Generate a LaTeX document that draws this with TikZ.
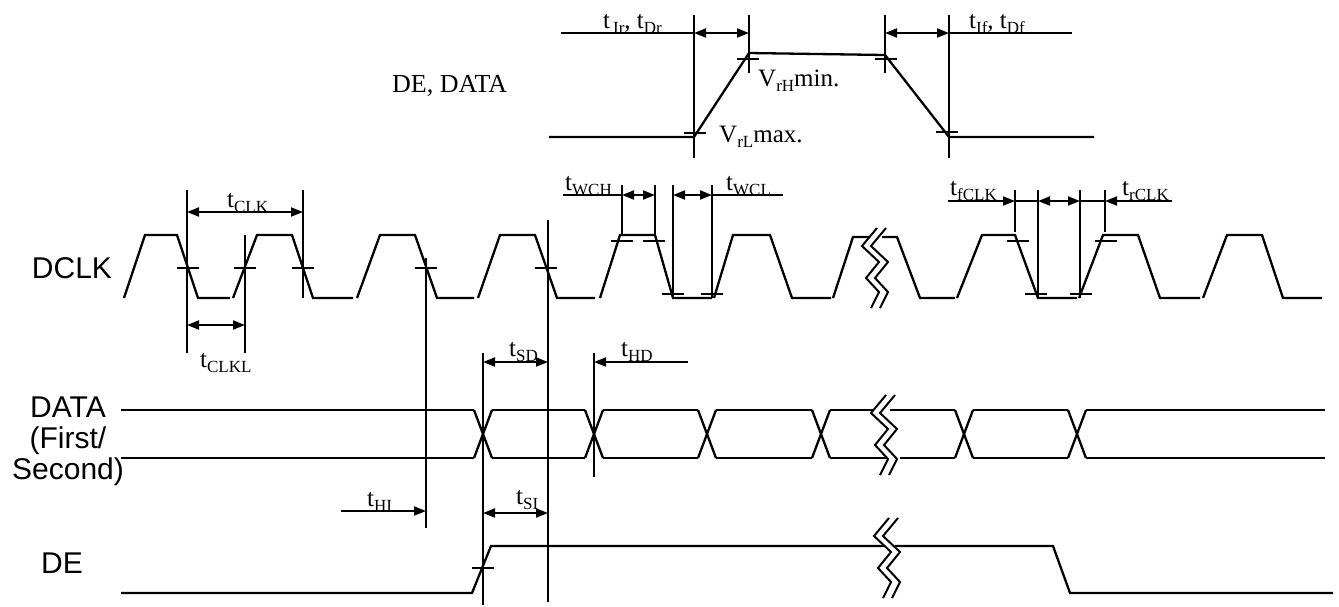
\documentclass[tikz,border=0pt]{standalone}
\usepackage{fontspec}
\setmainfont{Liberation Serif}
\newfontfamily\arialfont{Liberation Sans}
\usetikzlibrary{arrows.meta}

% symbol with lowered index, as in the datasheet
\newcommand{\sym}[2]{#1\raisebox{-5pt}{\fontsize{17}{17}\selectfont #2}}

\begin{document}
\begin{tikzpicture}[x=1pt, y=-1pt, >={Triangle[length=12pt,width=9pt]},
  wave/.style={line width=2.3pt},
  dimline/.style={line width=1.8pt},
  tickmark/.style={line width=2.2pt},
  brk/.style={line width=2pt},
  tlabel/.style={inner sep=0pt, anchor=base west, font=\fontsize{25}{25}\selectfont},
  signame/.style={inner sep=0pt, anchor=base, align=center, font=\arialfont\fontsize{30}{31}\selectfont}]
\useasboundingbox (0,0) rectangle (1339,606);

% Signal names
\node[signame] (dclk) at (72,278) {DCLK};
\node[signame] (data) at (68,479) {DATA\\(First/\\Second)};
\node[signame] (de) at (62,573) {DE};

% Input transition (top)
\node[tlabel, font=\fontsize{26}{26}\selectfont] (dedata) at (392,92) {DE, DATA};
\draw[wave] (549,137) -- (694,137) -- (749,53) -- (885,55) -- (949,137) -- (1094,137);
\draw[dimline] (561,33) -- (694,33);
\draw[dimline] (949,33) -- (1072,33);
\draw[dimline, <->] (694,33) -- (749,33);
\draw[dimline, <->] (885,33) -- (949,33);
\node[tlabel] (tir) at (603,28) {\sym{t}{\kern3pt Ir}, \sym{t}{Dr}};
\node[tlabel] (tif) at (969,28) {\sym{t}{If}, \sym{t}{Df}};
\node[tlabel] (vrh) at (758,86) {\sym{V}{rH}min.};
\node[tlabel] (vrl) at (719,142) {\sym{V}{rL}max.};

% DCLK pulses: rise start / high start / high end / fall end / low end
\foreach \rs/\hs/\he/\fe/\le in {124/145/177/198/230, 233/257/292/313/353,
    357/380/415/437/474, 478/500/535/557/595, 600/620/655/673/712,
    714/733/770/792/831, 957/982/1015/1038/1077, 1079/1103/1138/1160/1200,
    1203/1227/1262/1283/1322}
  \draw[wave] (\rs,298) -- (\hs,235) -- (\he,235) -- (\fe,298) -- (\le,298);
% pulse cut by the break
\draw[wave] (833,298) -- (853,237) -- (869,237);
\draw[wave] (882,237) -- (897,237) -- (920,298) -- (955,298);

% DATA bus
\foreach \c in {483,594,707,821,964,1077} {
  \draw[wave] (\c-9,410) -- (\c+9,458);
  \draw[wave] (\c-9,458) -- (\c+9,410);
}
\foreach \a/\b in {121/474, 603/698, 492/585, 716/812, 973/1068, 1086/1325} {
  \draw[wave] (\a,410) -- (\b,410);
  \draw[wave] (\a,458) -- (\b,458);
}
\draw[wave] (830,410) -- (873,410);
\draw[wave] (890,410) -- (955,410);
\draw[wave] (830,458) -- (886,458);
\draw[wave] (900,458) -- (955,458);

% DE
\draw[wave] (121,593) -- (472,593) -- (491,546) -- (884,546);
\draw[wave] (895,546) -- (1053,546) -- (1070,593) -- (1333,593);

% Breaks
\foreach \bx/\by in {877/228, 886/395, 889/518}
  \foreach \o in {0,9}
    \draw[brk] (\bx+\o,\by) -- ++(-15,18) -- ++(17,16) -- ++(-13,16) -- ++(13,14) -- ++(-8,16);

% Level marks
\foreach \x/\y in {188/268, 245/268, 303/268, 426/268, 546/268,
    622/241, 654/241, 673/294, 712/294, 1018/241, 1036/294, 1081/294, 1106/241,
    483/568, 748/59, 695/133, 886/59, 947/132}
  \draw[tickmark] (\x-11,\y) -- (\x+11,\y);

% Reference lines
\foreach \x/\ya/\yb in {694/15/158, 749/15/73, 885/15/73, 949/15/158,
    187/190/353, 303/190/298, 245/235/353, 426/258/528, 548/220/602,
    483/353/605, 594/353/477, 622/185/235, 655/185/235, 673/185/298,
    712/185/298, 1015/190/232, 1038/190/298, 1080/190/298, 1105/190/232}
  \draw[dimline] (\x,\ya) -- (\x,\yb);

% Timing arrows
\draw[dimline, <->] (187,212) -- (303,212);
\draw[dimline, <->] (187,325) -- (245,325);
\draw[dimline] (563,195) -- (622,195);
\draw[dimline, <->] (622,195) -- (655,195);
\draw[dimline, <->] (673,195) -- (712,195);
\draw[dimline] (712,195) -- (783,195);
\draw[dimline, ->] (948,201) -- (1015,201);
\draw[dimline] (1015,201) -- (1038,201);
\draw[dimline, <->] (1038,201) -- (1080,201);
\draw[dimline] (1080,201) -- (1105,201);
\draw[dimline, ->] (1172,201) -- (1105,201);
\draw[dimline, <->] (483,362) -- (548,362);
\draw[dimline, ->] (688,362) -- (594,362);
\draw[dimline, ->] (341,511) -- (426,511);
\draw[dimline, <->] (483,513) -- (548,513);

% Timing labels
\node[tlabel] (tclk) at (227,207) {\sym{t}{CLK}};
\node[tlabel] (tclkl) at (200,367) {\sym{t}{CLKL}};
\node[tlabel] (twch) at (565,190) {\sym{t}{WCH}};
\node[tlabel] (twcl) at (726,190) {\sym{t}{WCL}};
\node[tlabel] (tfclk) at (950,195) {\sym{t}{fCLK}};
\node[tlabel] (trclk) at (1122,195) {\sym{t}{rCLK}};
\node[tlabel] (tsd) at (509,356) {\sym{t}{SD}};
\node[tlabel] (thd) at (621,356) {\sym{t}{HD}};
\node[tlabel] (thi) at (367,506) {\sym{t}{HI}};
\node[tlabel] (tsi) at (516,504) {\sym{t}{SI}};
\end{tikzpicture}
\end{document}
